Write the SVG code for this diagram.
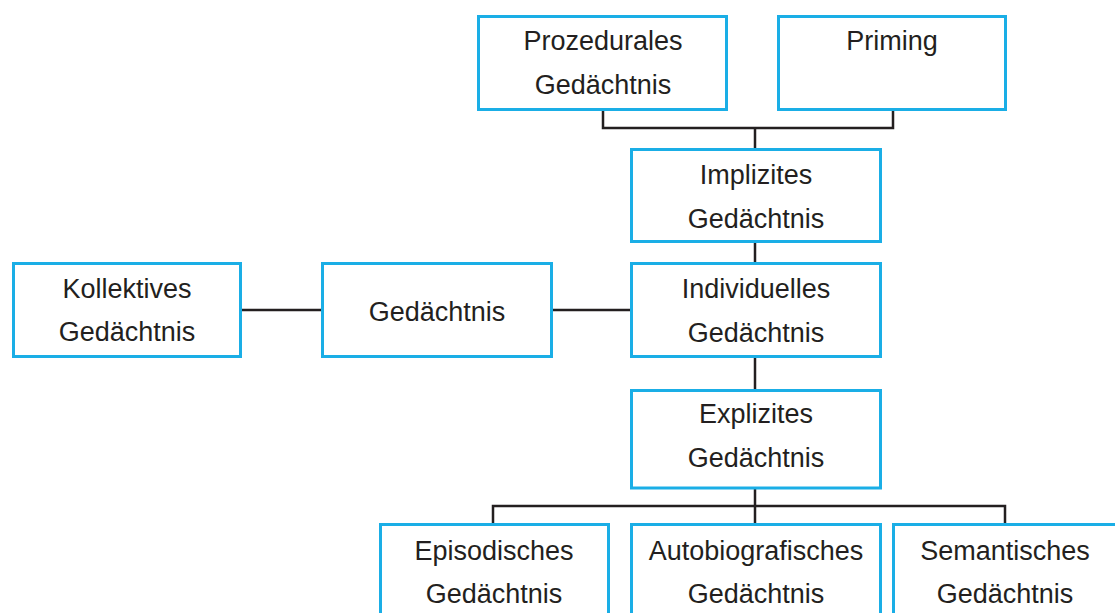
<svg xmlns="http://www.w3.org/2000/svg" width="1115" height="613" viewBox="0 0 1115 613">
<style>
.box{fill:#ffffff;stroke:#1aaee6;stroke-width:3}
.lbl{font-family:"Liberation Sans",Arial,sans-serif;font-size:27px;fill:#231f20;text-anchor:middle}
.conn{fill:none;stroke:#231f20;stroke-width:2.5}
</style>
<rect width="1115" height="613" fill="#ffffff"/>
<g id="connectors" class="conn">
<path d="M603 111 V128 H893 V111"/>
<path d="M755 128 V149"/>
<path d="M755 243 V262"/>
<path d="M242 310 H322"/>
<path d="M553 310 H630"/>
<path d="M755 358 V389"/>
<path d="M755 489 V523"/>
<path d="M493 523 V506 H1005 V523"/>
</g>
<g id="prozedurales">
<rect class="box" x="478.5" y="16.5" width="248" height="93"/>
<text class="lbl" x="603" y="50">Prozedurales</text>
<text class="lbl" x="603" y="94">Gedächtnis</text>
</g>
<g id="priming">
<rect class="box" x="778.5" y="16.5" width="227" height="93"/>
<text class="lbl" x="892" y="50">Priming</text>
</g>
<g id="implizites">
<rect class="box" x="631.5" y="149.5" width="249" height="92"/>
<text class="lbl" x="756" y="184">Implizites</text>
<text class="lbl" x="756" y="228">Gedächtnis</text>
</g>
<g id="kollektives">
<rect class="box" x="13.5" y="263.5" width="227" height="93"/>
<text class="lbl" x="127" y="298">Kollektives</text>
<text class="lbl" x="127" y="341">Gedächtnis</text>
</g>
<g id="gedaechtnis">
<rect class="box" x="322.5" y="263.5" width="229" height="93"/>
<text class="lbl" x="437" y="321">Gedächtnis</text>
</g>
<g id="individuelles">
<rect class="box" x="631.5" y="263.5" width="249" height="93"/>
<text class="lbl" x="756" y="298">Individuelles</text>
<text class="lbl" x="756" y="342">Gedächtnis</text>
</g>
<g id="explizites">
<rect class="box" x="631.5" y="390.5" width="249" height="97.5"/>
<text class="lbl" x="756" y="423">Explizites</text>
<text class="lbl" x="756" y="467">Gedächtnis</text>
</g>
<g id="episodisches">
<rect class="box" x="380.5" y="524.5" width="228" height="100"/>
<text class="lbl" x="494" y="560">Episodisches</text>
<text class="lbl" x="494" y="603">Gedächtnis</text>
</g>
<g id="autobiografisches">
<rect class="box" x="631.5" y="524.5" width="249" height="100"/>
<text class="lbl" x="756" y="560">Autobiografisches</text>
<text class="lbl" x="756" y="603">Gedächtnis</text>
</g>
<g id="semantisches">
<rect class="box" x="893.5" y="524.5" width="230" height="100"/>
<text class="lbl" x="1005" y="560">Semantisches</text>
<text class="lbl" x="1005" y="603">Gedächtnis</text>
</g>
</svg>
